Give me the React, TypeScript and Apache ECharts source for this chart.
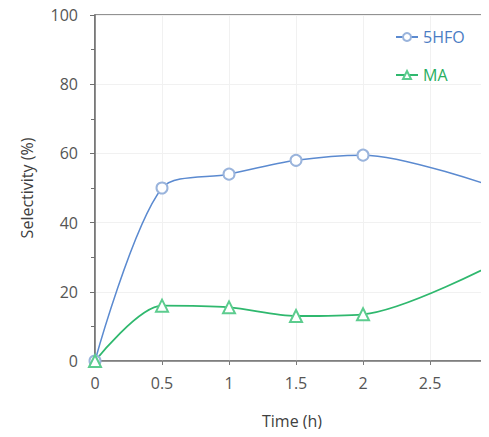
import React, { useEffect, useRef } from "react";
import * as echarts from "echarts";

// Reaction time (h) and selectivity (%) per product
const timeH = [0, 0.5, 1, 1.5, 2, 3];
const hfoSelectivity = [0, 50, 54, 58, 59.5, 50];
const maSelectivity = [0, 16, 15.5, 13, 13.5, 28.5];
const seriesNames = ["5HFO", "MA"];

const FONT = "'Open Sans', 'Liberation Sans', sans-serif";
const BLUE = "#5b8ad0";
const GREEN = "#2fb86e";

export default function App() {
  const ref = useRef<HTMLDivElement>(null);

  useEffect(() => {
    if (!ref.current) return;
    const chart = echarts.init(ref.current, undefined, { renderer: "svg" });
    const pairs = (ys: number[]) => timeH.map((t, i) => [t, ys[i]]);
    chart.setOption({
      animation: false,
      backgroundColor: "#ffffff",
      grid: {
        left: 95,
        top: 15,
        right: 0,
        bottom: 76,
        show: true,
        borderColor: "#6f6f6f",
        borderWidth: 1.5,
      },
      graphic: [
        {
          type: "line",
          silent: true,
          shape: { x1: 6, y1: 60, x2: 6, y2: 437 },
          style: { stroke: "#ececec", lineWidth: 1 },
        },
        {
          type: "line",
          silent: true,
          shape: { x1: 14, y1: 3, x2: 489, y2: 3 },
          style: { stroke: "#f0f0f0", lineWidth: 1 },
        },
      ],
      legend: {
        orient: "vertical",
        left: 390,
        top: 24,
        itemGap: 22,
        itemWidth: 22,
        itemHeight: 10,
        textStyle: { fontFamily: FONT, fontSize: 16 },
        data: [
          { name: seriesNames[0], textStyle: { color: "#4a7cc4" } },
          { name: seriesNames[1], textStyle: { color: "#27ae60" } },
        ],
      },
      xAxis: {
        type: "value",
        min: 0,
        max: 2.94,
        interval: 0.5,
        name: "Time (h)",
        nameLocation: "middle",
        nameGap: 52,
        nameTextStyle: { fontFamily: FONT, fontSize: 16, color: "#404040" },
        axisLine: { lineStyle: { color: "#7a7a7a", width: 1.5 } },
        axisTick: { show: true, length: 4, lineStyle: { color: "#7a7a7a" } },
        axisLabel: {
          fontFamily: FONT,
          fontSize: 16,
          color: "#555555",
          margin: 14,
          showMaxLabel: false,
          formatter: (v: number) => (Math.abs(v * 2 - Math.round(v * 2)) < 1e-6 ? String(v) : ""),
        },
        splitLine: { show: true, lineStyle: { color: "#f1f1f1", width: 1 } },
      },
      yAxis: {
        type: "value",
        min: 0,
        max: 100,
        interval: 20,
        name: "Selectivity (%)",
        nameLocation: "middle",
        nameGap: 60,
        nameTextStyle: { fontFamily: FONT, fontSize: 16, color: "#404040" },
        axisLine: { show: true, lineStyle: { color: "#6f6f6f", width: 1.5 } },
        axisTick: { show: true, length: 5, lineStyle: { color: "#6f6f6f" } },
        minorTick: { show: true, splitNumber: 2, length: 4, lineStyle: { color: "#6f6f6f" } },
        axisLabel: { fontFamily: FONT, fontSize: 16, color: "#555555", margin: 17 },
        splitLine: { show: true, lineStyle: { color: "#f1f1f1", width: 1 } },
      },
      series: [
        {
          name: seriesNames[0],
          type: "line",
          smooth: 0.3,
          data: pairs(hfoSelectivity),
          symbol: "emptyCircle",
          symbolSize: 11,
          lineStyle: { color: BLUE, width: 1.5 },
          itemStyle: { color: "#9ab4dc", borderColor: "#9ab4dc", borderWidth: 1.5 },
          clip: false,
        },
        {
          name: seriesNames[1],
          type: "line",
          smooth: 0.3,
          data: pairs(maSelectivity),
          symbol: "emptyTriangle",
          symbolSize: 12,
          lineStyle: { color: GREEN, width: 1.8 },
          itemStyle: { color: "#5ccc8e", borderColor: "#5ccc8e", borderWidth: 1.5 },
          clip: false,
        },
      ],
    });
    return () => chart.dispose();
  }, []);

  return <div ref={ref} style={{ width: 489, height: 437, margin: -8 }} />;
}
